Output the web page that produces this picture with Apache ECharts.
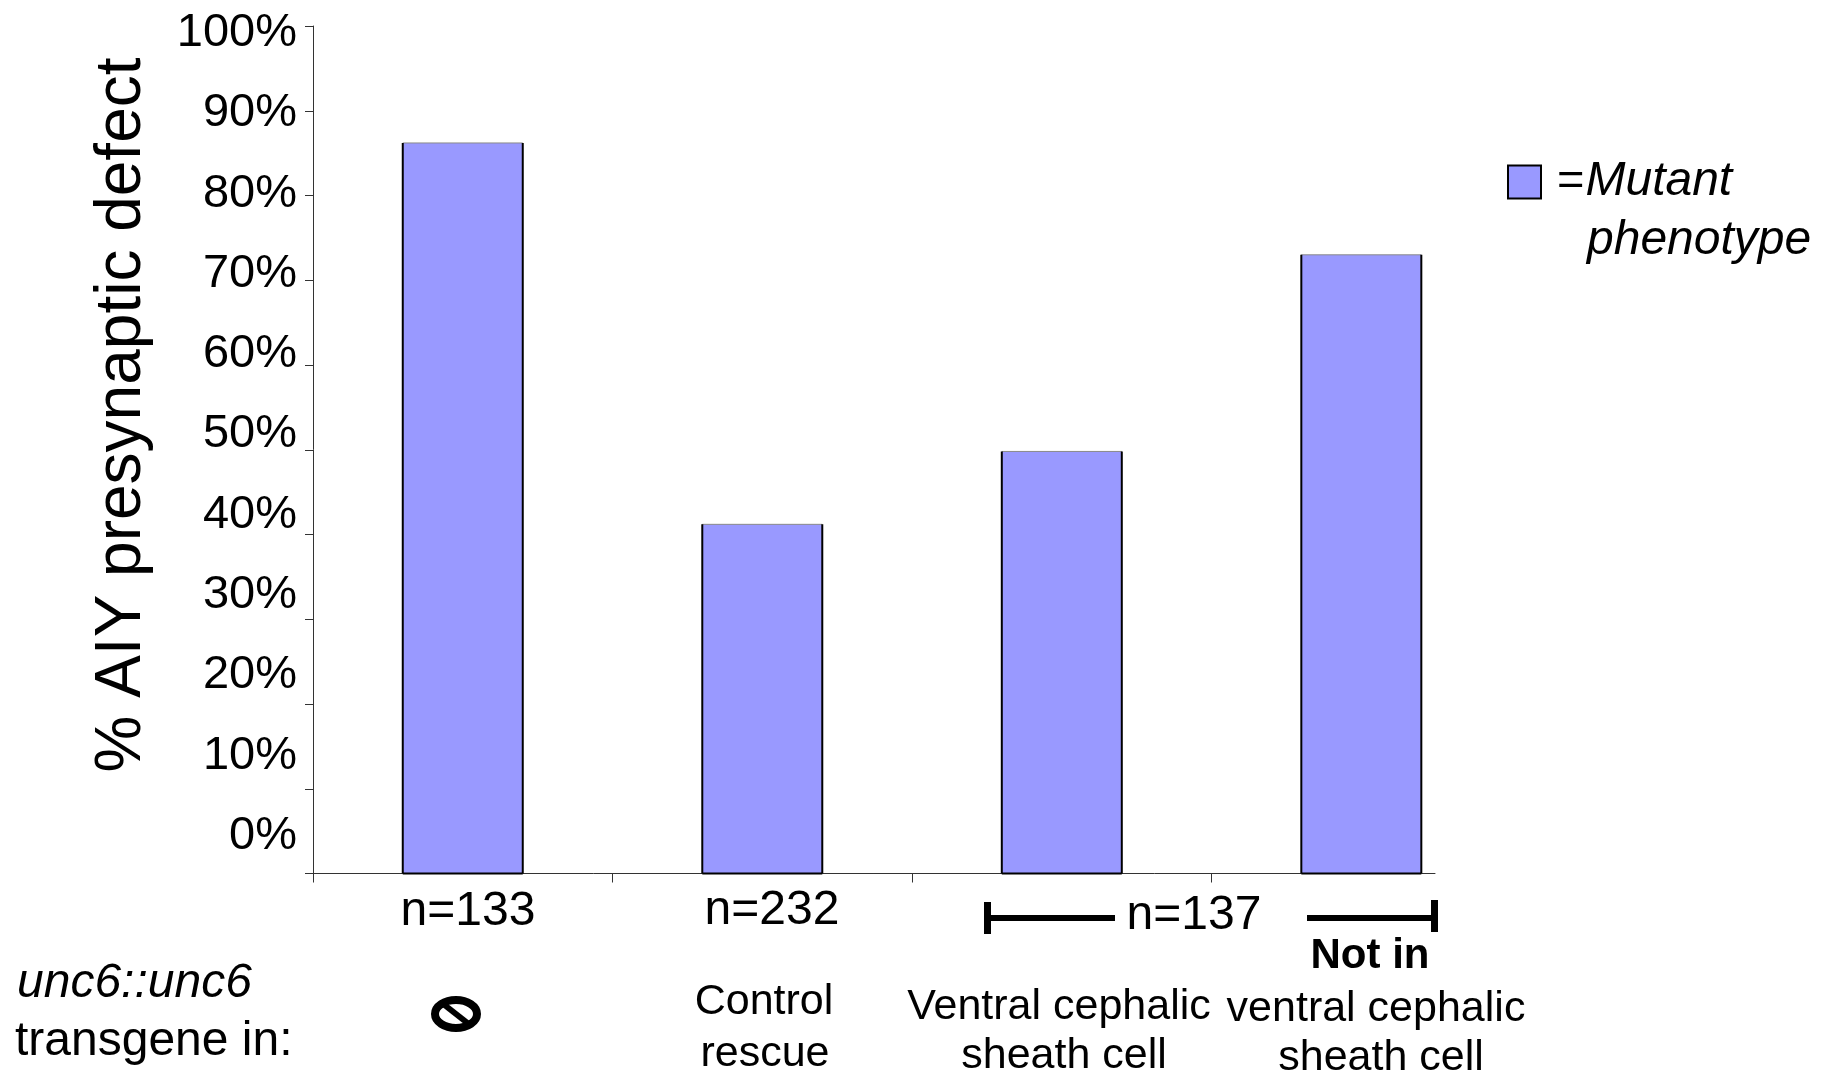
<!DOCTYPE html>
<html>
<head>
<meta charset="utf-8">
<style>
  html, body { margin: 0; padding: 0; background: #fff; }
  #chart { width: 1830px; height: 1075px; }
</style>
<script src="https://cdn.jsdelivr.net/npm/echarts@6/dist/echarts.min.js"></script>
</head>
<body>
<div id="chart"></div>
<script>
const seriesName = "Mutant phenotype"
const barValues = [86.2, 41.2, 49.8, 73.0]
const yTicks = [0, 10, 20, 30, 40, 50, 60, 70, 80, 90, 100]
const xTicks = [0, 1, 2, 3]
const yTitle = "% AIY presynaptic defect"
const sampleSizes = ["n=133", "n=232", "n=137"]
const rowTitle = ["unc6::unc6", "transgene in:"]
const groupLabels = ["Control", "rescue", "Ventral cephalic", "sheath cell", "Not in", "ventral cephalic", "sheath cell"]

const FONT = '"Liberation Sans", Arial, sans-serif'
const BAR_COLOR = "#9999ff"
const BAR_WIDTH = 120

function label(text, x, y, size, extra) {
	return {
		type: "text",
		style: Object.assign({
			text: text,
			x: x,
			y: y,
			font: size + "px " + FONT,
			fill: "#000",
			align: "center",
			verticalAlign: "middle",
		}, extra),
	}
}

function block(x, y, w, h) {
	return { type: "rect", shape: { x: x, y: y, width: w, height: h }, style: { fill: "#000" } }
}

// bars have heavy black sides and only a thin grey top edge
function renderBar(params, api) {
	const top = api.coord([api.value(0), api.value(1)])
	const base = api.coord([api.value(0), 0])
	const left = top[0] - BAR_WIDTH / 2
	const right = top[0] + BAR_WIDTH / 2
	return {
		type: "group",
		children: [
			{
				type: "rect",
				shape: { x: left, y: top[1], width: BAR_WIDTH, height: base[1] - top[1] },
				style: { fill: BAR_COLOR },
			},
			{
				type: "line",
				shape: { x1: left, y1: top[1], x2: right, y2: top[1] },
				style: { stroke: "#8a8a8a", lineWidth: 1 },
			},
			{
				type: "line",
				shape: { x1: left, y1: top[1], x2: left, y2: base[1] },
				style: { stroke: "#000", lineWidth: 2 },
			},
			{
				type: "line",
				shape: { x1: right, y1: top[1], x2: right, y2: base[1] },
				style: { stroke: "#000", lineWidth: 2 },
			},
			{
				type: "line",
				shape: { x1: left, y1: base[1], x2: right, y2: base[1] },
				style: { stroke: "#000", lineWidth: 2 },
			},
		],
	}
}

const chart = echarts.init(document.getElementById("chart"), null, { renderer: "canvas" })

chart.setOption({
	backgroundColor: "#fff",
	animation: false,
	textStyle: { fontFamily: FONT },
	legend: {
		left: 1507,
		top: 158,
		padding: 0,
		icon: "rect",
		itemWidth: 33,
		itemHeight: 33,
		data: [{
			name: seriesName,
			itemStyle: { color: BAR_COLOR, borderColor: "#000", borderWidth: 2 },
		}],
		formatter: () => "{eq|=}{it|Mutant}",
		textStyle: {
			rich: {
				eq: { fontSize: 47, fontFamily: FONT, color: "#000", padding: [0, 1, 0, 11] },
				it: { fontSize: 48, fontFamily: FONT, fontStyle: "italic", color: "#000" },
			},
		},
	},
	grid: [
		// plot area
		{ left: 313, top: 26, width: 1122, height: 847.5 },
		// the tick labels sit on a tighter spacing than the ticks in the original
		{ left: 313, top: 33, width: 100, height: 803 },
	],
	xAxis: [
		{
			type: "value",
			gridIndex: 0,
			min: 0,
			max: 3.746,
			splitLine: { show: false },
			axisLabel: { show: false },
			axisLine: { lineStyle: { color: "#333", width: 1 } },
			axisTick: { show: true, customValues: xTicks, length: 9, lineStyle: { color: "#333", width: 1 } },
		},
		{ type: "value", gridIndex: 1, show: false },
	],
	yAxis: [
		{
			type: "value",
			gridIndex: 0,
			min: 0,
			max: 100,
			interval: 10,
			splitLine: { show: false },
			axisLabel: { show: false },
			axisLine: { show: true, lineStyle: { color: "#333", width: 1 } },
			axisTick: { show: true, length: 8, lineStyle: { color: "#333", width: 1 } },
		},
		{
			type: "value",
			gridIndex: 1,
			min: 0,
			max: 100,
			interval: 10,
			splitLine: { show: false },
			axisLine: { show: false },
			axisTick: { show: false },
			axisLabel: {
				margin: 16,
				fontSize: 47,
				fontFamily: FONT,
				color: "#000",
				customValues: yTicks,
				formatter: "{value}%",
			},
		},
	],
	series: [
		{
			name: seriesName,
			type: "custom",
			xAxisIndex: 0,
			yAxisIndex: 0,
			itemStyle: { color: BAR_COLOR },
			renderItem: renderBar,
			encode: { x: 0, y: 1 },
			data: barValues.map((v, i) => [i + 0.5, v]),
		},
	],
	graphic: [
		Object.assign(label(yTitle, 0, 0, 64), { x: 122, y: 415, rotation: Math.PI / 2 }),
		label("phenotype", 1587, 241, 48, { align: "left", font: "italic 48px " + FONT }),
		label(sampleSizes[0], 468, 912, 48),
		label(sampleSizes[1], 772, 911, 48),
		label(sampleSizes[2], 1194, 916, 48),
		block(984, 902, 7, 32),
		block(991, 915, 124, 6),
		block(1307, 915, 124, 6),
		block(1431, 900, 7, 32),
		label(rowTitle[0], 17, 984, 48, { align: "left", font: "italic 48px " + FONT }),
		label(rowTitle[1], 15, 1042, 48, { align: "left" }),
		{
			type: "ellipse",
			shape: { cx: 456, cy: 1014, rx: 21, ry: 14 },
			style: { fill: "none", stroke: "#000", lineWidth: 8 },
		},
		{
			type: "line",
			shape: { x1: 442, y1: 1003, x2: 470, y2: 1025 },
			style: { stroke: "#000", lineWidth: 6 },
		},
		label(groupLabels[0], 764, 1002, 43),
		label(groupLabels[1], 765, 1054, 43),
		label(groupLabels[2], 1059, 1007, 43),
		label(groupLabels[3], 1064, 1056, 43),
		label(groupLabels[4], 1370, 956, 43, { font: "bold 42px " + FONT }),
		label(groupLabels[5], 1376, 1009, 43),
		label(groupLabels[6], 1381, 1058, 43),
	],
})
</script>
</body>
</html>
